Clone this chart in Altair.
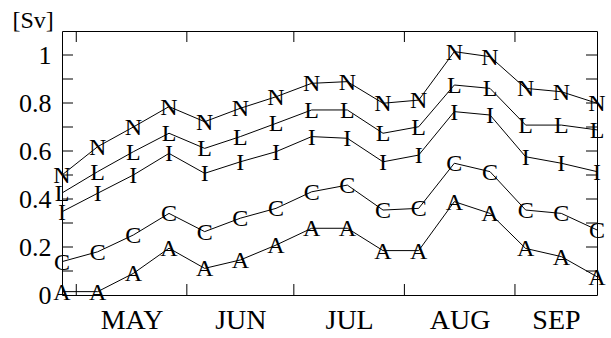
import altair as alt
import pandas as pd

# x positions: days after 27 April (one value every 10 days)
days = [0, 10, 20, 30, 40, 50, 60, 70, 80, 90, 100, 110, 120, 130, 140, 150]
series_names = ["N", "L", "I", "C", "A"]
N_vals = [0.50, 0.618, 0.70, 0.785, 0.722, 0.778, 0.826, 0.882, 0.889, 0.799, 0.812, 1.014, 0.993, 0.861, 0.847, 0.799]
L_vals = [0.425, 0.514, 0.597, 0.674, 0.611, 0.66, 0.715, 0.771, 0.771, 0.674, 0.701, 0.875, 0.861, 0.708, 0.708, 0.688]
I_vals = [0.347, 0.424, 0.50, 0.59, 0.507, 0.555, 0.597, 0.66, 0.653, 0.555, 0.583, 0.764, 0.75, 0.576, 0.549, 0.514]
C_vals = [0.139, 0.18, 0.25, 0.34, 0.264, 0.32, 0.361, 0.43, 0.458, 0.354, 0.361, 0.549, 0.514, 0.354, 0.34, 0.271]
A_vals = [0.014, 0.014, 0.09, 0.195, 0.111, 0.146, 0.208, 0.278, 0.278, 0.185, 0.185, 0.389, 0.34, 0.194, 0.16, 0.076]

month_names = ["MAY", "JUN", "JUL", "AUG", "SEP"]
month_start_days = [4, 35, 65, 96, 127]
month_label_days = [19.5, 50, 80.5, 111.5, 138.5]
y_tick_values = [0.1, 0.2, 0.3, 0.4, 0.5, 0.6, 0.7, 0.8, 0.9, 1.0]
y_label_values = [0, 0.2, 0.4, 0.6, 0.8, 1.0]

rows = []
for name, vals in zip(series_names, [N_vals, L_vals, I_vals, C_vals, A_vals]):
    for d, v in zip(days, vals):
        rows.append({"day": d, "flux": v, "series": name})
df = pd.DataFrame(rows)
ydf = pd.DataFrame({"v": y_tick_values})
xdf = pd.DataFrame({"d": month_start_days})

W, H = 535, 264
TICK = 11
FONT = "Liberation Serif"

xscale = alt.Scale(domain=[0, 150], nice=False, zero=False)
yscale = alt.Scale(domain=[0, 1.1], nice=False, zero=False)

label_expr = " : ".join(
    f"datum.value == {d} ? '{m}'" for d, m in zip(month_label_days, month_names)
) + " : ''"

xaxis = alt.Axis(values=month_label_days, labelExpr=label_expr, title=None)
yaxis = alt.Axis(values=y_label_values, format="~g", title="[Sv]")

base = alt.Chart(df)
lines = base.mark_line(color="black", strokeWidth=1).encode(
    x=alt.X("day:Q", scale=xscale, axis=xaxis),
    y=alt.Y("flux:Q", scale=yscale, axis=yaxis),
    detail="series:N",
)
letters = base.mark_text(font=FONT, fontSize=24, color="black", baseline="middle",
                         align="center", dy=1).encode(
    x=alt.X("day:Q", scale=xscale, axis=xaxis),
    y=alt.Y("flux:Q", scale=yscale, axis=yaxis),
    text="series:N",
)

left_ticks = alt.Chart(ydf).mark_rule(color="black", strokeWidth=1).encode(
    y=alt.Y("v:Q", scale=yscale, axis=yaxis), x=alt.value(0), x2=alt.value(TICK))
right_ticks = alt.Chart(ydf).mark_rule(color="black", strokeWidth=1).encode(
    y=alt.Y("v:Q", scale=yscale, axis=yaxis), x=alt.value(W - TICK), x2=alt.value(W))
top_ticks = alt.Chart(xdf).mark_rule(color="black", strokeWidth=1).encode(
    x=alt.X("d:Q", scale=xscale, axis=xaxis), y=alt.value(0), y2=alt.value(TICK))
bottom_ticks = alt.Chart(xdf).mark_rule(color="black", strokeWidth=1).encode(
    x=alt.X("d:Q", scale=xscale, axis=xaxis), y=alt.value(H - TICK), y2=alt.value(H))

chart = alt.layer(lines, letters, left_ticks, right_ticks, top_ticks, bottom_ticks).properties(
    width=W, height=H,
    padding={"left": 62, "top": 31, "right": 14, "bottom": 43},
    autosize=alt.AutoSizeParams(type="none"),
    background="white",
).configure_view(stroke="black", strokeWidth=1).configure_axis(
    ticks=False, domain=False, grid=False, labelColor="black", titleColor="black",
    labelFont=FONT, titleFont=FONT,
).configure_axisX(
    labelFontSize=28, labelPadding=11, labelFlush=False, labelOverlap=False,
).configure_axisY(
    labelFontSize=26, labelPadding=11, titleAngle=0, titleX=-50, titleY=-4,
    titleAlign="left", titleBaseline="alphabetic", titleFontSize=24,
    titleFontWeight="normal",
)

chart.save("out.html", embed_options={"renderer": "svg", "actions": False})
